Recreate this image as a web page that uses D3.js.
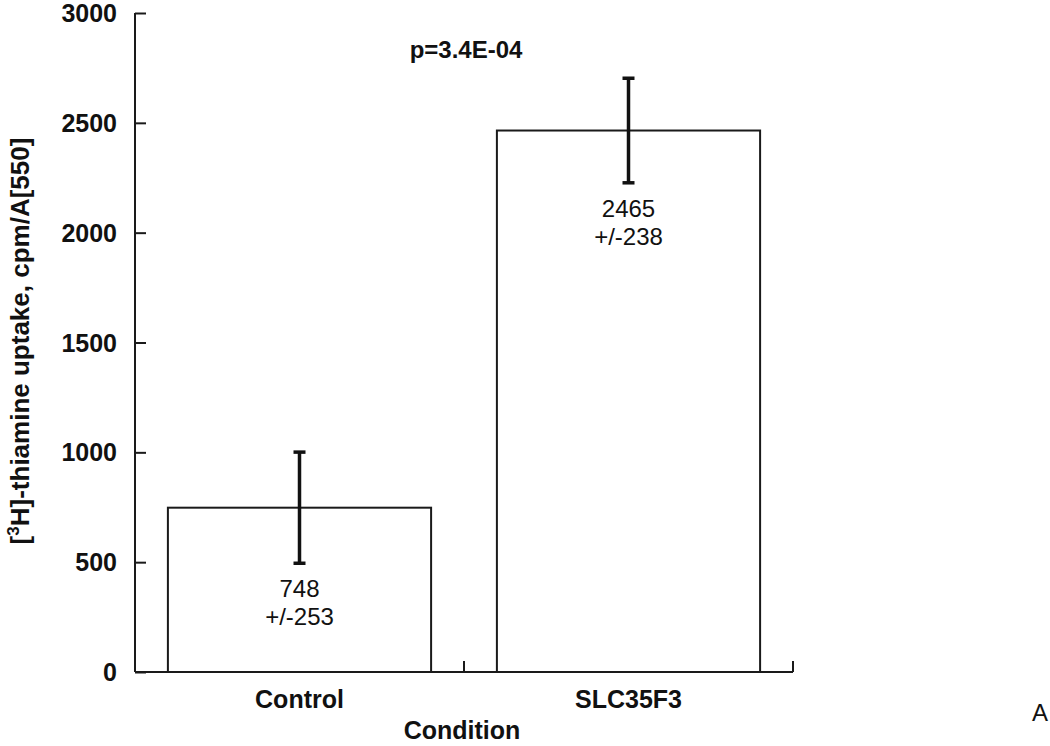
<!DOCTYPE html>
<html>
<head>
<meta charset="utf-8">
<script src="https://cdn.jsdelivr.net/npm/d3@7"></script>
<style>
  body { margin: 0; background: #fff; }
  svg { display: block; font-family: "Liberation Sans", Arial, sans-serif; }
  .tick-label { font-size: 25px; font-weight: bold; fill: #111; }
  .axis-title { font-size: 26px; font-weight: bold; fill: #111; }
</style>
</head>
<body>
<svg id="chart" width="1050" height="746"></svg>
<script>
// data
let conditions = ["Control", "SLC35F3"];
let means = [748, 2465];
let errors = [253, 238];
let yTicks = [0, 500, 1000, 1500, 2000, 2500, 3000];
let pLabel = "p=3.4E-04";

const svg = d3.select("svg#chart");
const ink = "#1a1a1a";

const margin = { left: 135, right: 257, top: 13, bottom: 74 };
const width = 1050, height = 746;

let yScale = d3.scaleLinear()
  .domain([0, 3000])
  .range([height - margin.bottom, margin.top]);

let xScale = d3.scaleBand()
  .domain(conditions)
  .range([margin.left, width - margin.right])
  .paddingInner(0.2)
  .paddingOuter(0.1);

const y0 = yScale(0);
const xEnd = width - margin.right;

// bars
svg.selectAll("rect.bar")
  .data(conditions)
  .enter().append("rect")
  .attr("class", "bar")
  .attr("x", d => xScale(d))
  .attr("y", (d, i) => yScale(means[i]))
  .attr("width", xScale.bandwidth())
  .attr("height", (d, i) => y0 - yScale(means[i]))
  .attr("fill", "#fff")
  .attr("stroke", ink)
  .attr("stroke-width", 2);

// error bars
let cx = d => xScale(d) + xScale.bandwidth() / 2;
let err = svg.append("g").attr("id", "errors");
conditions.forEach(function(d, i) {
  let top = yScale(means[i] + errors[i]);
  let bot = yScale(means[i] - errors[i]);
  err.append("line")
    .attr("x1", cx(d)).attr("x2", cx(d))
    .attr("y1", top).attr("y2", bot)
    .attr("stroke", "#111").attr("stroke-width", 3.5);
  [top, bot].forEach(function(yy) {
    err.append("line")
      .attr("x1", cx(d) - 6).attr("x2", cx(d) + 6)
      .attr("y1", yy).attr("y2", yy)
      .attr("stroke", "#111").attr("stroke-width", 3.5);
  });
  // value labels
  let lbl = svg.append("text")
    .attr("x", cx(d))
    .attr("text-anchor", "middle")
    .style("font-size", "24px")
    .attr("fill", "#111");
  lbl.append("tspan").attr("x", cx(d)).attr("y", bot + 34).text(means[i]);
  lbl.append("tspan").attr("x", cx(d)).attr("y", bot + 62).text("+/-" + errors[i]);
});

// y axis
let yAxis = d3.axisRight(yScale).tickValues(yTicks).tickSize(11).tickFormat("");
let yGroup = svg.append("g")
  .attr("transform", translate(margin.left, 0))
  .call(yAxis);
yGroup.select(".domain").attr("d", "M0," + yScale(3000) + "V" + y0);
yGroup.selectAll("path, line").attr("stroke", ink).attr("stroke-width", 2);

svg.selectAll("text.tick-label")
  .data(yTicks)
  .enter().append("text")
  .attr("class", "tick-label")
  .attr("x", margin.left - 18)
  .attr("y", d => yScale(d))
  .attr("dy", "0.36em")
  .attr("text-anchor", "end")
  .text(d => d);

// x axis: ticks at category boundaries, pointing up
let bounds = [xScale(conditions[1]) - xScale.step() * xScale.paddingInner() / 2, xEnd];
let xGroup = svg.append("g").attr("id", "x-axis");
xGroup.append("line")
  .attr("x1", margin.left).attr("x2", xEnd)
  .attr("y1", y0).attr("y2", y0)
  .attr("stroke", ink).attr("stroke-width", 2);
xGroup.selectAll("line.xt")
  .data(bounds)
  .enter().append("line")
  .attr("class", "xt")
  .attr("x1", d => d).attr("x2", d => d)
  .attr("y1", y0).attr("y2", y0 - 11)
  .attr("stroke", ink).attr("stroke-width", 2);

svg.selectAll("text.x-label")
  .data(conditions)
  .enter().append("text")
  .attr("class", "tick-label")
  .attr("x", d => cx(d))
  .attr("y", 708)
  .attr("text-anchor", "middle")
  .text(d => d);

// titles
svg.append("text")
  .attr("class", "axis-title")
  .attr("x", 462)
  .attr("y", 739)
  .attr("text-anchor", "middle")
  .style("font-size", "25px")
  .text("Condition");

let yTitle = svg.append("text")
  .attr("class", "axis-title")
  .attr("transform", translate(29, 341) + " rotate(-90)")
  .attr("text-anchor", "middle");
yTitle.append("tspan").text("[");
yTitle.append("tspan").attr("dy", -10).style("font-size", "17px").text("3");
yTitle.append("tspan").attr("dy", 10).text("H]-thiamine uptake, cpm/A[550]");

svg.append("text")
  .attr("x", 466)
  .attr("y", 58)
  .attr("text-anchor", "middle")
  .style("font-size", "24px")
  .style("font-weight", "bold")
  .attr("fill", "#111")
  .text(pLabel);

svg.append("text")
  .attr("x", 1040)
  .attr("y", 721)
  .attr("text-anchor", "middle")
  .style("font-size", "24px")
  .attr("fill", "#111")
  .text("A");

function translate(x, y) {
  return "translate(" + String(x) + "," + String(y) + ")";
}
</script>
</body>
</html>
